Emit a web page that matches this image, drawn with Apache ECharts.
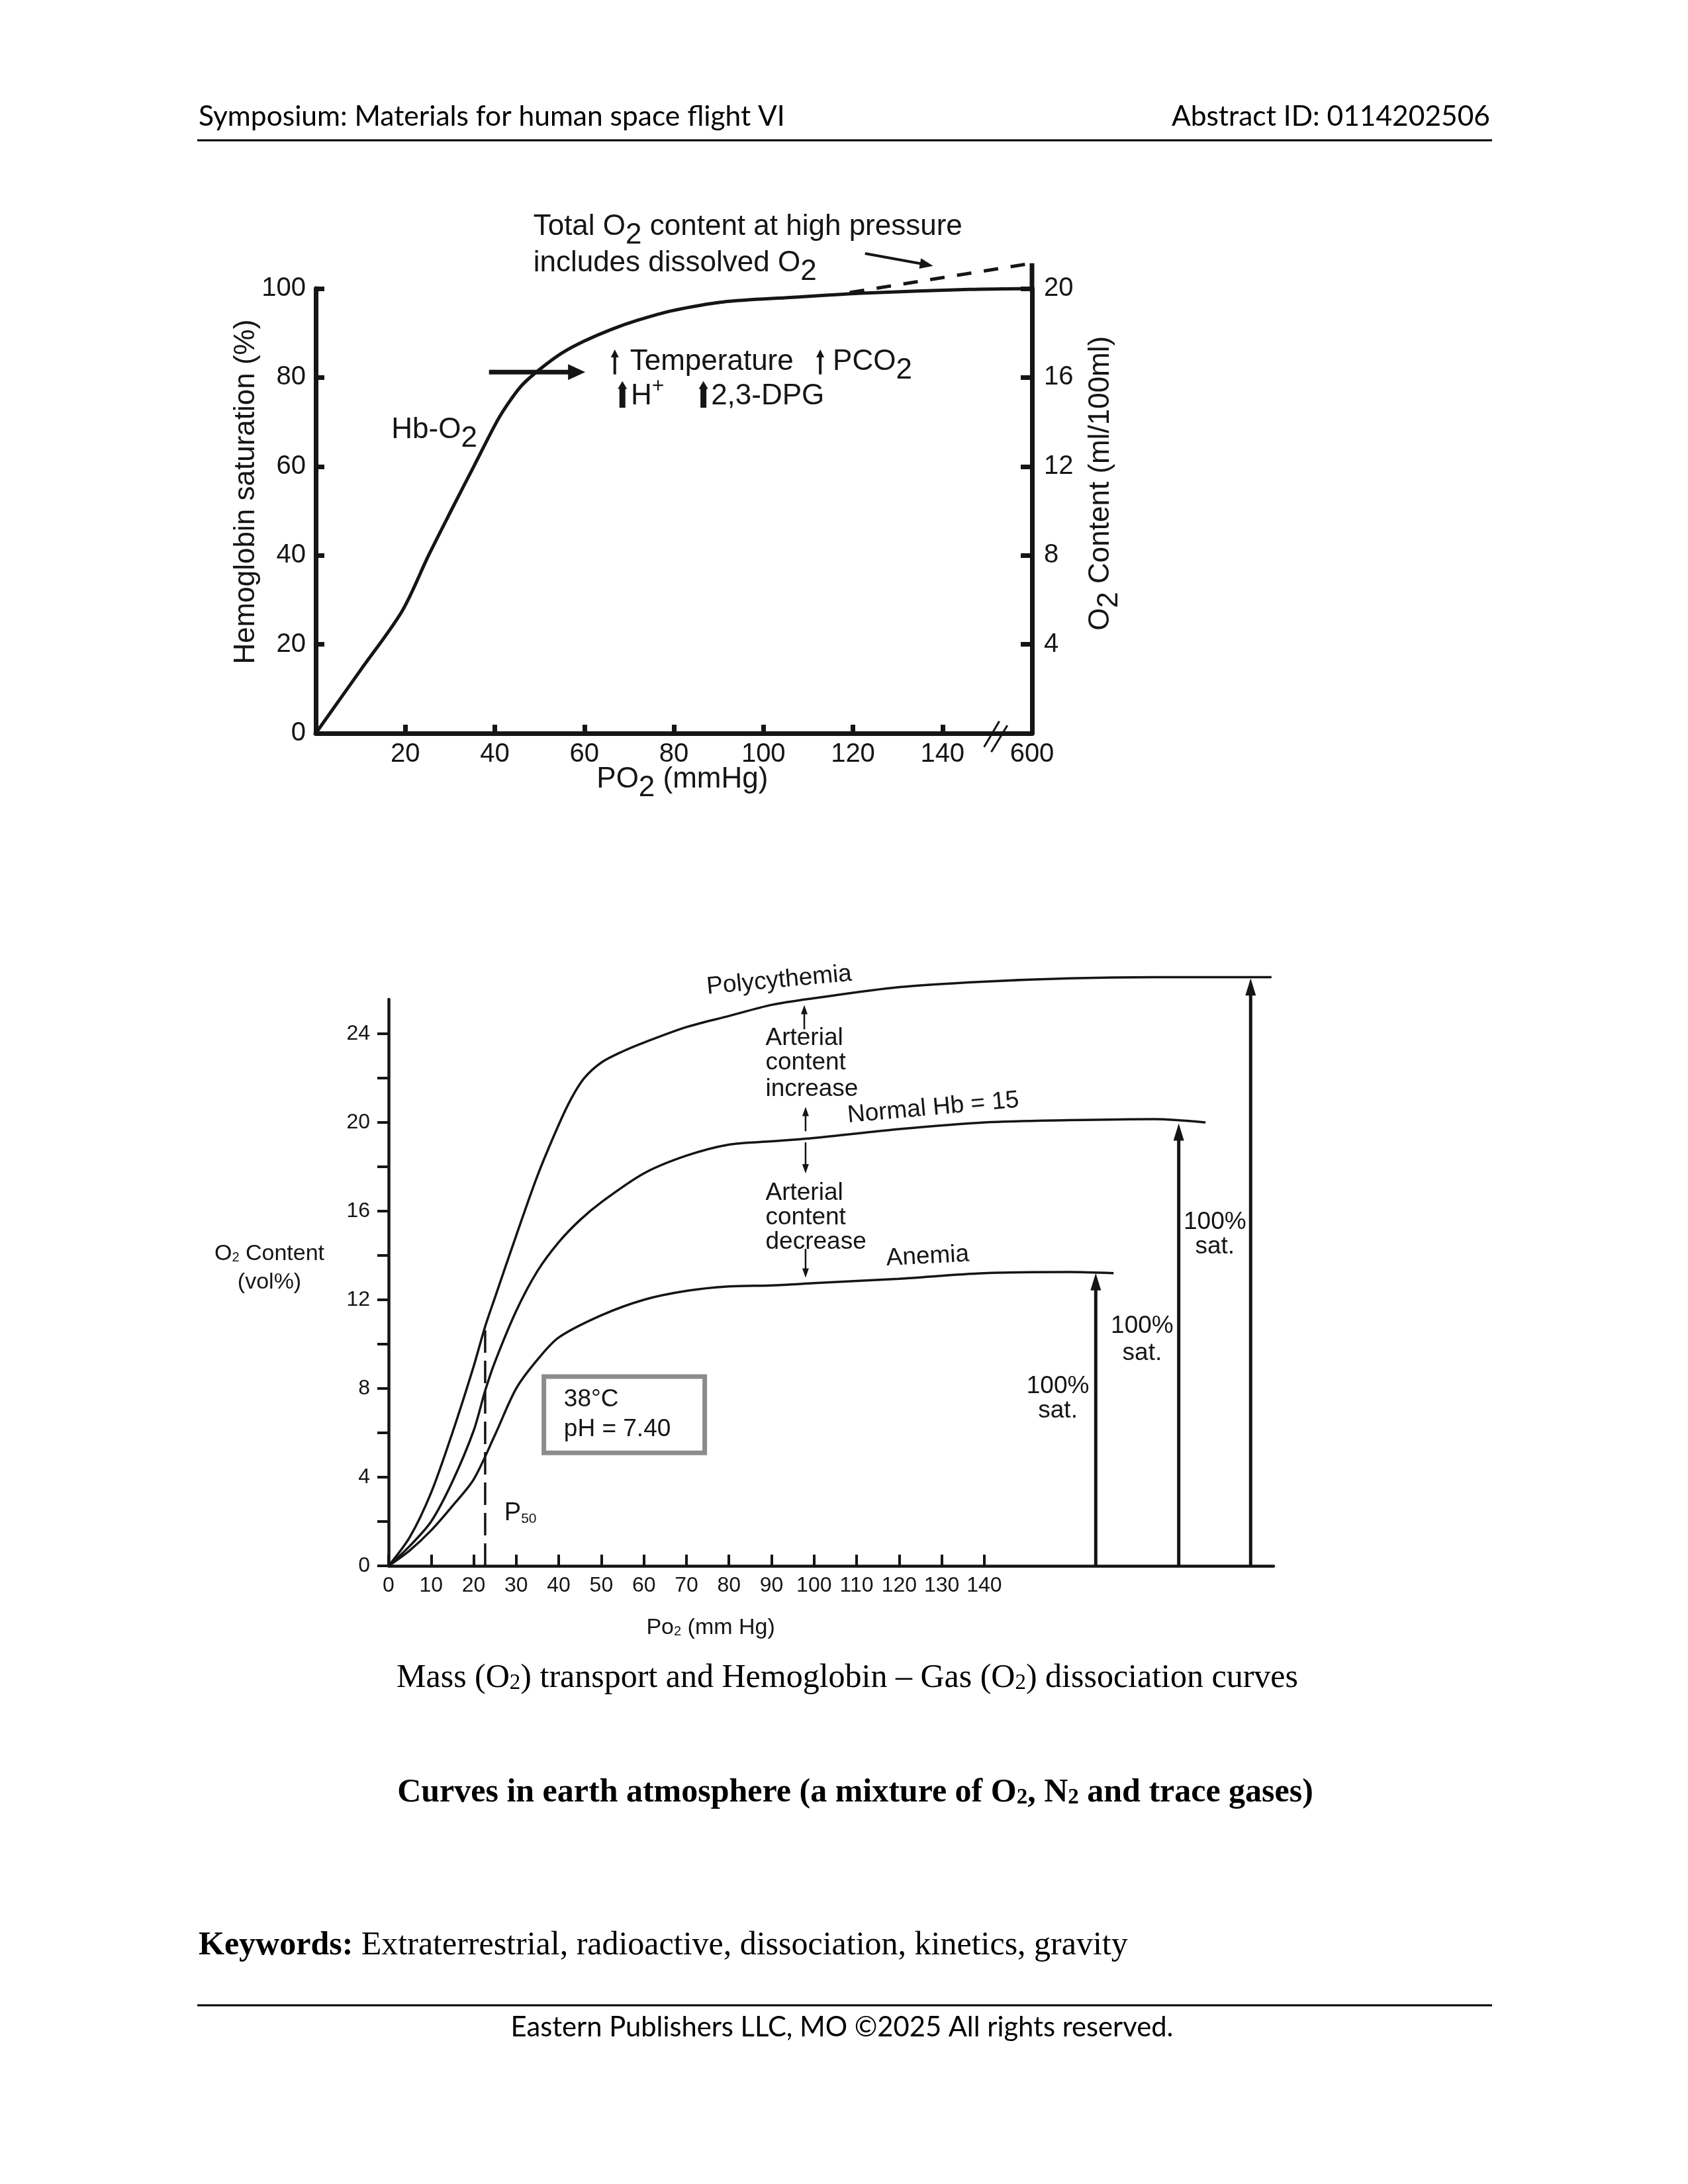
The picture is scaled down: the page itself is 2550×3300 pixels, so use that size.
<!DOCTYPE html>
<html><head><meta charset="utf-8">
<script src="https://cdn.jsdelivr.net/npm/echarts@6/dist/echarts.min.js"></script>
<style>html,body{margin:0;padding:0;background:#fff}#c{width:2550px;height:3300px}</style>
</head><body><div id="c"></div>
<script>
// ---------------- DATA ----------------
// Top chart: Hb-O2 saturation (%) vs PO2 (mmHg); x=160 stands for 600 mmHg (axis break)
const hbSaturation = [[0,0],[10,14.2],[19.3,27.5],[25.2,40],[30.2,50],[35.3,60],[40.4,70],[43,74.2],[46,78.2],[50,81.8],[55,85.5],[60,88.2],[66,90.8],[72,92.9],[79.5,95],[91,97],[106,98],[123,99],[146,99.8],[160,100]];
const totalWithDissolved = [[119.3,99.1],[160,105.7]];
const rightAxisExtension = [[160,100],[160,105.7]];
const topXTickValues = [20,40,60,80,100,120,140];
const topXLabelValues = [20,40,60,80,100,120,140,160];
const topXLabels = ['20','40','60','80','100','120','140','600'];
const topYLeftTicks = [20,40,60,80,100];
const topYLeftLabels = [0,20,40,60,80,100];
const topYRightTicks = [4,8,12,16,20];

// Bottom chart: O2 content (vol%) vs PO2 (mm Hg)
const polycythemia = [[0,0],[5,1.3],[10,3.3],[15,6.0],[20,9.0],[22.7,10.8],[25,12.1],[30,14.9],[35,17.6],[40,19.9],[43,21.1],[46,22.0],[50,22.7],[55,23.2],[60,23.6],[70,24.3],[80,24.8],[90,25.3],[100,25.6],[120,26.1],[140,26.35],[160,26.5],[180,26.55],[207.5,26.55]];
const normalHb = [[0,0],[5,0.9],[10,2.0],[15,3.8],[20,6.1],[22.7,7.9],[25,9.2],[30,11.5],[35,13.3],[40,14.6],[45,15.6],[50,16.4],[60,17.7],[70,18.5],[80,19.0],[90,19.15],[100,19.3],[120,19.7],[140,20.0],[160,20.1],[180,20.15],[192,20.0]];
const anemia = [[0,0],[5,0.7],[10,1.6],[15,2.7],[20,3.9],[25,5.9],[30,8.0],[35,9.3],[40,10.3],[50,11.3],[60,12.0],[70,12.4],[80,12.6],[90,12.65],[100,12.75],[120,12.95],[140,13.2],[160,13.25],[170.4,13.2]];
const p50Line = [[22.7,0],[22.7,10.9]];
const fullSatArrows = [[166.2,13.2],[185.7,19.95],[202.6,26.5]];
const botXTicks = [0,10,20,30,40,50,60,70,80,90,100,110,120,130,140];
const botYTicks = [0,2,4,6,8,10,12,14,16,18,20,22,24];
const botYLabels = [0,4,8,12,16,20,24];

// annotation anchors (data coordinates) [x1, y1, x2, y2]
const bigArrow = [[38.7,81.2,60.2,81.2]];
const pointerArrow = [[122.7,107.9,137.9,105.1]];
const factorArrowsThin = [[66.8,80.7,66.8,86.3],[112.7,80.7,112.7,86.3]];
const factorArrowsBold = [[68.5,73.2,68.5,79.2],[86.6,73.2,86.6,79.2]];
const breakMarks = [[149.3,-3.1,152.7,2.7],[150.9,-4.2,154.5,1.8]];
const contentArrows = [[97.7,24.2,97.7,25.3],[98,19.6,98,20.7],[98,19.1,98,17.7],[98,14.3,98,13.0]];
const conditionBox = [[36.5,8.54],[74.3,5.1]];

// ---------------- STYLE ----------------
const FONT = "'Liberation Sans', Arial, sans-serif";
const INK = '#151515';

function arrowSeries(xi, yi, segs, width, headLen, headW) {
  return {
    type: 'custom', xAxisIndex: xi, yAxisIndex: yi, clip: false, silent: true, data: segs,
    renderItem: function (params, api) {
      const a = api.coord([api.value(0), api.value(1)]);
      const b = api.coord([api.value(2), api.value(3)]);
      const dx = b[0] - a[0], dy = b[1] - a[1];
      const len = Math.sqrt(dx * dx + dy * dy) || 1;
      const ux = dx / len, uy = dy / len;
      const children = [];
      if (headLen > 0) {
        const bx = b[0] - ux * headLen, by = b[1] - uy * headLen;
        children.push({type: 'line', shape: {x1: a[0], y1: a[1], x2: bx + ux * 2, y2: by + uy * 2},
                       style: {stroke: INK, lineWidth: width}});
        children.push({type: 'polygon', shape: {points: [[b[0], b[1]],
                        [bx - uy * headW / 2, by + ux * headW / 2], [bx + uy * headW / 2, by - ux * headW / 2]]},
                       style: {fill: INK}});
      } else {
        children.push({type: 'line', shape: {x1: a[0], y1: a[1], x2: b[0], y2: b[1]},
                       style: {stroke: INK, lineWidth: width}});
      }
      return {type: 'group', children: children};
    }
  };
}

const topAxisLine = {lineStyle: {color: INK, width: 7}};
const botAxisLine = {lineStyle: {color: INK, width: 4.5}};

const option = {
  backgroundColor: '#fff',
  animation: false,
  grid: [
    {left: 477, top: 436, width: 1082, height: 672},
    {left: 587, top: 1510, width: 1337, height: 856}
  ],
  xAxis: [
    {type: 'value', gridIndex: 0, min: 0, max: 160, splitLine: {show: false},
     axisLine: topAxisLine,
     axisTick: {inside: true, length: 13, lineStyle: {color: INK, width: 7}, customValues: topXTickValues},
     axisLabel: {customValues: topXLabelValues, formatter: v => topXLabels[topXLabelValues.indexOf(v)],
                 fontSize: 40, fontFamily: FONT, color: INK, margin: 12}},
    {type: 'value', gridIndex: 1, min: 0, max: 208, splitLine: {show: false},
     axisLine: botAxisLine,
     axisTick: {inside: true, length: 17, lineStyle: {color: INK, width: 4}, customValues: botXTicks},
     axisLabel: {customValues: botXTicks, fontSize: 32, fontFamily: FONT, color: INK, margin: 14}}
  ],
  yAxis: [
    {type: 'value', gridIndex: 0, min: 0, max: 100, position: 'left', splitLine: {show: false},
     axisLine: {show: true, lineStyle: {color: INK, width: 7}},
     axisTick: {show: true, inside: true, length: 13, lineStyle: {color: INK, width: 7}, customValues: topYLeftTicks},
     axisLabel: {customValues: topYLeftLabels, fontSize: 40, fontFamily: FONT, color: INK, margin: 15}},
    {type: 'value', gridIndex: 0, min: 0, max: 20, position: 'right', splitLine: {show: false},
     axisLine: {show: true, lineStyle: {color: INK, width: 7}},
     axisTick: {show: true, inside: true, length: 17, lineStyle: {color: INK, width: 7}, customValues: topYRightTicks},
     axisLabel: {customValues: topYRightTicks, fontSize: 40, fontFamily: FONT, color: INK, margin: 18}},
    {type: 'value', gridIndex: 1, min: 0, max: 25.55, position: 'left', splitLine: {show: false},
     axisLine: {show: true, lineStyle: {color: INK, width: 4.5}},
     axisTick: {show: true, inside: false, length: 17, lineStyle: {color: INK, width: 4}, customValues: botYTicks},
     axisLabel: {customValues: botYLabels, fontSize: 32, fontFamily: FONT, color: INK, margin: 28}}
  ],
  series: [
    {name: 'Hb-O2', type: 'line', xAxisIndex: 0, yAxisIndex: 0, data: hbSaturation, smooth: 0.3,
     showSymbol: false, clip: false, lineStyle: {color: INK, width: 5}},
    {name: 'Total O2 content', type: 'line', xAxisIndex: 0, yAxisIndex: 0, data: totalWithDissolved,
     showSymbol: false, clip: false, lineStyle: {color: INK, width: 5, type: [22, 19]}},
    {name: 'axis-ext', type: 'line', xAxisIndex: 0, yAxisIndex: 0, data: rightAxisExtension,
     showSymbol: false, clip: false, lineStyle: {color: INK, width: 7}},
    arrowSeries(0, 0, bigArrow, 7, 26, 24),
    arrowSeries(0, 0, pointerArrow, 4, 20, 16),
    arrowSeries(0, 0, factorArrowsThin, 4, 12, 12),
    arrowSeries(0, 0, factorArrowsBold, 9, 12, 14),
    arrowSeries(0, 0, breakMarks, 3, 0, 0),

    {name: 'Polycythemia', type: 'line', xAxisIndex: 1, yAxisIndex: 2, data: polycythemia, smooth: 0.3,
     showSymbol: false, clip: false, lineStyle: {color: INK, width: 3.5}},
    {name: 'Normal Hb = 15', type: 'line', xAxisIndex: 1, yAxisIndex: 2, data: normalHb, smooth: 0.3,
     showSymbol: false, clip: false, lineStyle: {color: INK, width: 3.5}},
    {name: 'Anemia', type: 'line', xAxisIndex: 1, yAxisIndex: 2, data: anemia, smooth: 0.3,
     showSymbol: false, clip: false, lineStyle: {color: INK, width: 3.5}},
    {name: 'P50', type: 'line', xAxisIndex: 1, yAxisIndex: 2, data: p50Line,
     showSymbol: false, clip: false, lineStyle: {color: INK, width: 3.5, type: [34, 12]},
     markArea: {silent: true, itemStyle: {color: 'rgba(0,0,0,0)', borderColor: '#8c8c8c', borderWidth: 7},
                label: {show: false},
                data: [[{coord: conditionBox[0]}, {coord: conditionBox[1]}]]}},
    arrowSeries(1, 2, fullSatArrows.map(a => [a[0], 0, a[0], a[1]]), 5, 26, 16),
    arrowSeries(1, 2, contentArrows, 2.5, 14, 10)
  ]
};

const chart = echarts.init(document.getElementById('c'), null, {renderer: 'canvas', width: 2550, height: 3300});
chart.setOption(option);

// ---------------- TEXT ----------------
function richFor(fs, subScale, subDrop) {
  return {
    s: {fontSize: Math.round(fs * subScale), fontFamily: FONT, fill: INK, padding: [Math.round(2 * subDrop), 0, 0, 0]},
    u: {fontSize: Math.round(fs * 0.72), fontFamily: FONT, fill: INK, padding: [0, 0, Math.round(fs * 0.7), 0]}
  };
}
const TOP = [0, 0], BOT = [1, 2];
const notes = [
  // top chart
  {ax: TOP, at: [48.6, 113.8], t: 'Total O{s|2} content at high pressure', fs: 44, sub: [1, 13]},
  {ax: TOP, at: [48.6, 105.7], t: 'includes dissolved O{s|2}', fs: 44, sub: [1, 13]},
  {ax: TOP, at: [16.9, 68.2], t: 'Hb-O{s|2}', fs: 44, sub: [1, 13]},
  {ax: TOP, at: [70.2, 83.5], t: 'Temperature', fs: 44},
  {ax: TOP, at: [115.5, 83.5], t: 'PCO{s|2}', fs: 44, sub: [1, 13]},
  {ax: TOP, at: [70.4, 75.7], t: 'H{u|+}', fs: 44},
  {ax: TOP, at: [88.3, 75.7], t: '2,3-DPG', fs: 44},
  {ax: TOP, at: [-15.5, 54.3], t: 'Hemoglobin saturation (%)', fs: 44, align: 'center', rot: 90},
  {ax: TOP, at: [175.3, 56.2], t: 'O{s|2} Content (ml/100ml)', fs: 44, align: 'center', rot: 90, sub: [1, 13]},
  {ax: TOP, at: [81.9, -10.4], t: 'PO{s|2} (mmHg)', fs: 44, align: 'center', sub: [1, 13]},
  // bottom chart
  {ax: BOT, at: [91.8, 26.4], t: 'Polycythemia', fs: 37, align: 'center', rot: 5.3},
  {ax: BOT, at: [88.6, 23.8], t: 'Arterial', fs: 37},
  {ax: BOT, at: [88.6, 22.7], t: 'content', fs: 37},
  {ax: BOT, at: [88.6, 21.5], t: 'increase', fs: 37},
  {ax: BOT, at: [128, 20.65], t: 'Normal Hb = 15', fs: 37, align: 'center', rot: 5.2},
  {ax: BOT, at: [88.6, 16.8], t: 'Arterial', fs: 37},
  {ax: BOT, at: [88.6, 15.7], t: 'content', fs: 37},
  {ax: BOT, at: [88.6, 14.6], t: 'decrease', fs: 37},
  {ax: BOT, at: [126.7, 13.95], t: 'Anemia', fs: 37, align: 'center', rot: 3},
  {ax: BOT, at: [157.3, 8.1], t: '100%', fs: 37, align: 'center'},
  {ax: BOT, at: [157.3, 7.0], t: 'sat.', fs: 37, align: 'center'},
  {ax: BOT, at: [177.1, 10.8], t: '100%', fs: 37, align: 'center'},
  {ax: BOT, at: [177.1, 9.6], t: 'sat.', fs: 37, align: 'center'},
  {ax: BOT, at: [194.2, 15.5], t: '100%', fs: 37, align: 'center'},
  {ax: BOT, at: [194.2, 14.4], t: 'sat.', fs: 37, align: 'center'},
  {ax: BOT, at: [41.2, 7.5], t: '38°C', fs: 37},
  {ax: BOT, at: [41.2, 6.15], t: 'pH = 7.40', fs: 37},
  {ax: BOT, at: [27.2, 2.36], t: 'P{s|50}', fs: 38, sub: [0.55, 8]},
  {ax: BOT, at: [-28, 14.06], t: 'O{s|2} Content', fs: 34, align: 'center', sub: [0.6, 6]},
  {ax: BOT, at: [-28, 12.8], t: '(vol%)', fs: 34, align: 'center'},
  {ax: BOT, at: [75.7, -2.8], t: 'Po{s|2} (mm Hg)', fs: 34, align: 'center', sub: [0.6, 6]}
];

const graphics = [];
notes.forEach(n => {
  const p = chart.convertToPixel({xAxisIndex: n.ax[0], yAxisIndex: n.ax[1]}, n.at);
  const sub = n.sub || [0.8, 8];
  graphics.push({
    type: 'text', x: p[0], y: p[1], rotation: (n.rot || 0) * Math.PI / 180, silent: true,
    style: {text: n.t, fill: INK, fontSize: n.fs, fontFamily: FONT,
            align: n.align || 'left', verticalAlign: 'middle', rich: richFor(n.fs, sub[0], sub[1])}
  });
});

// page texts
const SANS = "Lato, 'Open Sans', sans-serif";
const SERIF = "'Liberation Serif', 'Times New Roman', serif";
const mctx = document.createElement('canvas').getContext('2d');
function fit(text, family, weight, width) {
  mctx.font = weight + ' 100px ' + family;
  return Math.round(100 * width / mctx.measureText(text).width * 10) / 10;
}
const headerLeft = 'Symposium: Materials for human space flight VI';
const headerRight = 'Abstract ID: 0114202506';
const keywordsHead = 'Keywords:';
const keywordsBody = ' Extraterrestrial, radioactive, dissociation, kinetics, gravity';
const footer = 'Eastern Publishers LLC, MO ©2025 All rights reserved.';

const hfs = fit(headerLeft, SANS, 'normal', 885);
const ffs = fit(footer, SANS, 'normal', 1000);
const c1fs = 50, c2fs = 50, kfs = 50;
function serifRich(fs, bold) {
  return {s: {fontSize: Math.round(fs * 0.65), fontFamily: SERIF, fontWeight: bold ? 'bold' : 'normal', fill: '#000', padding: [Math.round(fs * 0.3), 0, 0, 0]},
          b: {fontSize: fs, fontFamily: SERIF, fontWeight: 'bold', fill: '#000'}};
}
graphics.push(
  {type: 'text', x: 300, y: 176, silent: true, style: {text: headerLeft, fontSize: hfs, fontFamily: SANS, fill: '#000', align: 'left', verticalAlign: 'middle'}},
  {type: 'text', x: 2251, y: 176, silent: true, style: {text: headerRight, fontSize: hfs, fontFamily: SANS, fill: '#000', align: 'right', verticalAlign: 'middle'}},
  {type: 'line', silent: true, shape: {x1: 298, y1: 212, x2: 2254, y2: 212}, style: {stroke: '#000', lineWidth: 3}},
  {type: 'text', x: 1280, y: 2536, silent: true, style: {text: 'Mass (O{s|2}) transport and Hemoglobin – Gas (O{s|2}) dissociation curves', fontSize: c1fs, fontFamily: SERIF, fill: '#000', align: 'center', verticalAlign: 'middle', rich: serifRich(c1fs, false)}},
  {type: 'text', x: 1292, y: 2709, silent: true, style: {text: 'Curves in earth atmosphere (a mixture of O{s|2}, N{s|2} and trace gases)', fontSize: c2fs, fontFamily: SERIF, fontWeight: 'bold', fill: '#000', align: 'center', verticalAlign: 'middle', rich: serifRich(c2fs, true)}},
  {type: 'text', x: 300, y: 2940, silent: true, style: {text: '{b|' + keywordsHead + '}' + keywordsBody, fontSize: kfs, fontFamily: SERIF, fill: '#000', align: 'left', verticalAlign: 'middle', rich: serifRich(kfs, true)}},
  {type: 'line', silent: true, shape: {x1: 298, y1: 3030, x2: 2254, y2: 3030}, style: {stroke: '#000', lineWidth: 3}},
  {type: 'text', x: 1272, y: 3064, silent: true, style: {text: footer, fontSize: ffs, fontFamily: SANS, fill: '#000', align: 'center', verticalAlign: 'middle'}}
);
chart.setOption({graphic: graphics});
</script>
</body></html>
